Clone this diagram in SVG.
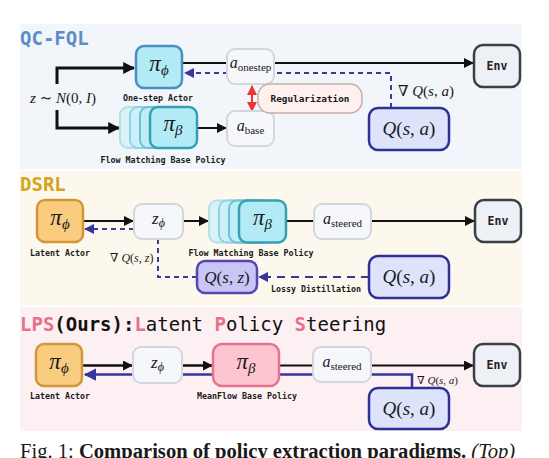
<svg xmlns="http://www.w3.org/2000/svg" width="549" height="458" viewBox="0 0 549 458">
<defs>
<style>
.mono{font-family:"DejaVu Sans Mono","Liberation Mono",monospace;}
.lbl{font-family:"DejaVu Sans Mono","Liberation Mono",monospace;font-size:8.3px;font-weight:bold;fill:#1a1a1a;text-anchor:middle;}
.ttl{font-family:"DejaVu Sans Mono","Liberation Mono",monospace;font-size:19px;font-weight:bold;}
.m{font-family:"Liberation Serif","DejaVu Serif",serif;fill:#1a1a1a;}
.i{font-style:italic;}
.ctr{text-anchor:middle;}
.gray{fill:#f5f7fa;stroke:#d3d7dd;stroke-width:2;}
.env{fill:#edf0f5;stroke:#3b3f46;stroke-width:2.5;}
.q{fill:#dde3fb;stroke:#2f3096;stroke-width:2.5;}
.qz{fill:#c9c6f5;stroke:#5546b0;stroke-width:2.5;}
.cyan{fill:#b2ebf6;stroke:#4a8fc0;stroke-width:2.5;}
.teal{fill:#b2ebf6;stroke:#35a0b2;stroke-width:2.5;}
.orange{fill:#f9cc7f;stroke:#d1983a;stroke-width:2.5;}
.pink{fill:#fcc5d0;stroke:#e57390;stroke-width:2.5;}
.c1{fill:#d8f3f8;stroke:#b3dfe7;stroke-width:2;}
.c2{fill:#cbf0f7;stroke:#92d2de;stroke-width:2;}
.c3{fill:#bfeef7;stroke:#6fc2d1;stroke-width:2;}
.blk{stroke:#111;fill:none;}
.dash{stroke:#3a3a9a;stroke-width:2;fill:none;stroke-dasharray:5 4;}
.envt{font-family:"DejaVu Sans Mono","Liberation Mono",monospace;font-size:11.5px;font-weight:bold;fill:#222;text-anchor:middle;}
</style>
<marker id="ab" viewBox="0 0 10 10" refX="9" refY="5" markerWidth="4" markerHeight="4" orient="auto" markerUnits="strokeWidth"><path d="M0,0 L10,5 L0,10 z" fill="#111"/></marker>
<marker id="ab2" viewBox="0 0 10 10" refX="9" refY="5" markerWidth="5" markerHeight="5" orient="auto" markerUnits="strokeWidth"><path d="M0,0 L10,5 L0,10 z" fill="#111"/></marker>
<marker id="au" viewBox="0 0 10 10" refX="9" refY="5" markerWidth="5" markerHeight="5" orient="auto" markerUnits="strokeWidth"><path d="M0,0 L10,5 L0,10 z" fill="#3535a0"/></marker>
<marker id="ar" viewBox="0 0 10 10" refX="9" refY="5" markerWidth="5" markerHeight="5" orient="auto-start-reverse" markerUnits="strokeWidth"><path d="M0,0 L10,5 L0,10 z" fill="#ee3636"/></marker>
</defs>

<!-- panels -->
<rect x="20" y="24" width="502" height="145" fill="#f2f5f9"/>
<rect x="20" y="171" width="502" height="134" fill="#fdf8ee"/>
<rect x="20" y="307" width="502" height="124" fill="#fdf0f2"/>

<text class="ttl" x="20" y="45" fill="#5b8dc8">QC-FQL</text>
<text class="ttl" x="20" y="191" fill="#d4a520">DSRL</text>
<text class="ttl" x="20" y="331" fill="#111"><tspan fill="#e8708a">LPS</tspan>(Ours):<tspan fill="#e8708a">L</tspan><tspan font-weight="normal">atent </tspan><tspan fill="#e8708a">P</tspan><tspan font-weight="normal">olicy </tspan><tspan fill="#e8708a">S</tspan><tspan font-weight="normal">teering</tspan></text>

<!-- connectors -->
<g id="connectors">
  <!-- QC-FQL -->
  <path class="blk" stroke-width="3" d="M57,84 V68 H134" marker-end="url(#ab)"/>
  <path class="blk" stroke-width="3" d="M57,110 V128 H119" marker-end="url(#ab)"/>
  <line class="blk" stroke-width="2" x1="182" y1="63" x2="227" y2="63"/>
  <line class="blk" stroke-width="2" x1="274" y1="63" x2="473" y2="63" marker-end="url(#ab2)"/>
  <line class="blk" stroke-width="2" x1="197" y1="128" x2="226" y2="128" marker-end="url(#ab2)"/>
  <path class="dash" d="M391,108 V73 H185" marker-end="url(#au)"/>
  <line stroke="#ee3636" stroke-width="2" x1="252" y1="86" x2="252" y2="111" marker-start="url(#ar)" marker-end="url(#ar)"/>
  <!-- DSRL -->
  <line class="blk" stroke-width="2" x1="83" y1="221" x2="133" y2="221" marker-end="url(#ab2)"/>
  <path class="dash" d="M134,229 H85" marker-end="url(#au)"/>
  <line class="blk" stroke-width="2" x1="183" y1="221" x2="208" y2="221" marker-end="url(#ab2)"/>
  <line class="blk" stroke-width="2" x1="286" y1="221" x2="314" y2="221"/>
  <line class="blk" stroke-width="2" x1="371" y1="221" x2="474" y2="221" marker-end="url(#ab2)"/>
  <path class="dash" d="M158,239 V277 H197"/>
  <path stroke="#3a3a8a" stroke-width="2" fill="none" stroke-dasharray="8 6" d="M369,277 H259" marker-end="url(#au)"/>
  <!-- LPS -->
  <path stroke="#3535a0" stroke-width="2.5" fill="none" d="M412,388 V374.5 H85" marker-end="url(#au)"/>
  <line class="blk" stroke-width="2.5" x1="82" y1="365.5" x2="132" y2="365.5" marker-end="url(#ab)"/>
  <line class="blk" stroke-width="2.5" x1="182" y1="365.5" x2="212" y2="365.5" marker-end="url(#ab)"/>
  <line class="blk" stroke-width="2" x1="279" y1="365.5" x2="313" y2="365.5"/>
  <line class="blk" stroke-width="2" x1="371" y1="365.5" x2="473" y2="365.5" marker-end="url(#ab2)"/>
</g>

<!-- QC-FQL nodes -->
<g id="qc-actor">
  <rect class="cyan" x="136" y="46" width="46" height="42" rx="8"/>
  <text class="m ctr" x="159" y="71" font-size="23"><tspan class="i">π</tspan><tspan class="i" font-size="15" dy="4">ϕ</tspan></text>
  <text class="lbl" x="158" y="100.5">One-step Actor</text>
</g>
<text class="m" x="30" y="103" font-size="15"><tspan class="i">z</tspan> ∼ <tspan class="i">N</tspan>(0, <tspan class="i">I</tspan>)</text>
<g id="qc-base">
  <rect class="c1" x="120" y="107" width="46" height="41" rx="8"/>
  <rect class="c2" x="130" y="107" width="46" height="41" rx="8"/>
  <rect class="c3" x="140" y="107" width="46" height="41" rx="8"/>
  <rect class="teal" x="150" y="107" width="47" height="41" rx="8"/>
  <text class="m ctr" x="173" y="131" font-size="23"><tspan class="i">π</tspan><tspan class="i" font-size="15" dy="4">β</tspan></text>
  <text class="lbl" x="163" y="163">Flow Matching Base Policy</text>
</g>
<g id="qc-aonestep">
  <rect class="gray" x="227" y="49" width="47" height="35" rx="8"/>
  <text class="m ctr" x="250.5" y="68" font-size="16"><tspan class="i">a</tspan><tspan font-size="11" dy="3">onestep</tspan></text>
</g>
<g id="qc-abase">
  <rect class="gray" x="227" y="111" width="47" height="35" rx="8"/>
  <text class="m ctr" x="250.5" y="131" font-size="16"><tspan class="i">a</tspan><tspan font-size="11" dy="3">base</tspan></text>
</g>
<g id="qc-reg">
  <rect x="258" y="84" width="104" height="29" rx="12" fill="#fdf0ee" stroke="#c8aea8" stroke-width="1.5"/>
  <text class="mono" x="310" y="101.5" font-size="9.4" font-weight="bold" text-anchor="middle" fill="#1a1a1a">Regularization</text>
</g>
<text class="m" x="398" y="96" font-size="15">∇ <tspan class="i">Q</tspan>(<tspan class="i">s</tspan>, <tspan class="i">a</tspan>)</text>
<g id="qc-q">
  <rect class="q" x="369" y="108" width="80" height="42" rx="9"/>
  <text class="m ctr" x="409" y="135" font-size="19"><tspan class="i">Q</tspan>(<tspan class="i">s</tspan>, <tspan class="i">a</tspan>)</text>
</g>
<g id="qc-env">
  <rect class="env" x="474" y="45" width="46" height="42" rx="9"/>
  <text class="envt" x="497" y="70">Env</text>
</g>

<!-- DSRL nodes -->
<g id="ds-actor">
  <rect class="orange" x="37" y="200" width="46" height="42" rx="8"/>
  <text class="m ctr" x="60" y="225" font-size="23"><tspan class="i">π</tspan><tspan class="i" font-size="15" dy="4">ϕ</tspan></text>
  <text class="lbl" x="60" y="255.5">Latent Actor</text>
</g>
<g id="ds-z">
  <rect class="gray" x="134" y="204" width="49" height="35" rx="8"/>
  <text class="m ctr" x="158.5" y="224" font-size="17"><tspan class="i">z</tspan><tspan class="i" font-size="12" dy="3">ϕ</tspan></text>
</g>
<text class="m" x="110" y="262" font-size="12">∇ <tspan class="i">Q</tspan>(<tspan class="i">s</tspan>, <tspan class="i">z</tspan>)</text>
<g id="ds-base">
  <rect class="c1" x="209" y="200.5" width="47" height="42" rx="8"/>
  <rect class="c2" x="219" y="200.5" width="47" height="42" rx="8"/>
  <rect class="c3" x="229" y="200.5" width="47" height="42" rx="8"/>
  <rect class="teal" x="239" y="200.5" width="47" height="42" rx="8"/>
  <text class="m ctr" x="262.5" y="225" font-size="23"><tspan class="i">π</tspan><tspan class="i" font-size="15" dy="4">β</tspan></text>
  <text class="lbl" x="251" y="255.5">Flow Matching Base Policy</text>
</g>
<g id="ds-asteered">
  <rect class="gray" x="314" y="204" width="57" height="35" rx="8"/>
  <text class="m ctr" x="342.5" y="224" font-size="16"><tspan class="i">a</tspan><tspan font-size="11" dy="3">steered</tspan></text>
</g>
<g id="ds-env">
  <rect class="env" x="475" y="200" width="46" height="42" rx="9"/>
  <text class="envt" x="498" y="225">Env</text>
</g>
<g id="ds-qz">
  <rect class="qz" x="197" y="261" width="60" height="32" rx="8"/>
  <text class="m ctr" x="227" y="283" font-size="17"><tspan class="i">Q</tspan>(<tspan class="i">s</tspan>, <tspan class="i">z</tspan>)</text>
</g>
<text class="lbl" x="316" y="292">Lossy Distillation</text>
<g id="ds-q">
  <rect class="q" x="369" y="256" width="80" height="42" rx="9"/>
  <text class="m ctr" x="409" y="283" font-size="19"><tspan class="i">Q</tspan>(<tspan class="i">s</tspan>, <tspan class="i">a</tspan>)</text>
</g>

<!-- LPS nodes -->
<g id="lps-actor">
  <rect class="orange" x="36" y="344" width="46" height="42" rx="8"/>
  <text class="m ctr" x="59" y="369" font-size="23"><tspan class="i">π</tspan><tspan class="i" font-size="15" dy="4">ϕ</tspan></text>
  <text class="lbl" x="60" y="398.5">Latent Actor</text>
</g>
<g id="lps-z">
  <rect class="gray" x="133" y="347" width="49" height="36" rx="8"/>
  <text class="m ctr" x="157.5" y="368" font-size="17"><tspan class="i">z</tspan><tspan class="i" font-size="12" dy="3">ϕ</tspan></text>
</g>
<g id="lps-base">
  <rect class="pink" x="213" y="344" width="66" height="42" rx="9"/>
  <text class="m ctr" x="246" y="369" font-size="23"><tspan class="i">π</tspan><tspan class="i" font-size="15" dy="4">β</tspan></text>
  <text class="lbl" x="247" y="398.5">MeanFlow Base Policy</text>
</g>
<g id="lps-asteered">
  <rect class="gray" x="313" y="347" width="58" height="35" rx="8"/>
  <text class="m ctr" x="342" y="367" font-size="16"><tspan class="i">a</tspan><tspan font-size="11" dy="3">steered</tspan></text>
</g>
<text class="m" x="417" y="384" font-size="11">∇ <tspan class="i">Q</tspan>(<tspan class="i">s</tspan>, <tspan class="i">a</tspan>)</text>
<g id="lps-env">
  <rect class="env" x="474" y="344" width="46" height="42" rx="9"/>
  <text class="envt" x="497" y="369">Env</text>
</g>
<g id="lps-q">
  <rect class="q" x="369" y="388" width="80" height="41" rx="9"/>
  <text class="m ctr" x="409" y="415" font-size="19"><tspan class="i">Q</tspan>(<tspan class="i">s</tspan>, <tspan class="i">a</tspan>)</text>
</g>

<text class="m" x="20" y="457.5" font-size="20.6">Fig. 1: <tspan font-weight="bold">Comparison of policy extraction paradigms.</tspan> <tspan class="i">(Top)</tspan></text>
</svg>
